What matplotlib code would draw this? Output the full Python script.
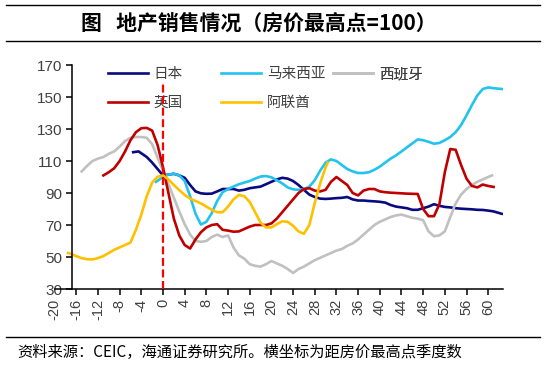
import numpy as np
import matplotlib
matplotlib.use('Agg')
import matplotlib.pyplot as plt

plt.rcParams['font.family'] = ['Liberation Sans', 'Noto Sans CJK SC', 'DejaVu Sans']

"""data read off the reference (x = quarters from house price peak)"""
jp_q = [-5.5, -4.5, -3, -2, -1] + list(range(0, 62)) + [62.5]
jp = [115.5, 116, 112.5, 109, 105,
      101, 101.5, 102, 101, 99.5, 95, 91, 89.8, 89.5, 89.6,
      91, 92.5, 92.5, 92.5, 91.5, 92, 93, 93.5, 94, 95.5,
      97, 98.5, 99.5, 99, 97.5, 95, 92, 89, 87.5, 86.5,
      86.3, 86.5, 86.8, 87, 87.5, 86, 85.3, 85.3, 85, 84.8,
      84.5, 84, 82.5, 81.5, 81, 80.5, 79.5, 79.5, 80.5, 81.5,
      83, 82, 81.3, 81, 80.5, 80.2, 80, 79.8, 79.5, 79.4,
      79, 78.5, 77]

my_q = [-1.3] + list(range(0, 62)) + [62.5]
my = [97,
      100, 101.5, 102, 101, 97.5, 88, 77, 70.3, 72, 77.5,
      85, 90.5, 92.5, 94, 95.5, 96.5, 97.5, 99, 100.3, 100.6,
      99.8, 98, 96, 93.5, 92.3, 92, 92.3, 94, 98, 104,
      109, 111, 110, 107.5, 105, 103.5, 102.5, 102.5, 103, 104.5,
      106.5, 109, 111.5, 113.5, 116, 118.5, 121, 123.5, 123, 122,
      120.8, 121.3, 123, 125, 128, 132.5, 138.5, 145, 151, 155,
      156, 155.5, 155]

sp_q = list(range(-15, 61)) + [60.7]
sp = [103.5, 107, 110, 111.5, 112.5, 114.5, 116, 119, 122.5, 124.5,
      125, 125, 124.5, 120.5, 112,
      104, 95.5, 87, 78.5, 70.5, 64, 60, 59.5, 60, 62.5,
      64, 62.5, 63.5, 56, 51, 49, 45.5, 44.5, 44, 45.5,
      47.5, 46, 44.5, 42.5, 40, 42.5, 44, 46, 48, 49.5,
      51, 52.5, 54, 55, 57, 58.5, 61, 64, 67, 70,
      72, 73.5, 75, 76, 76.5, 75.5, 74.5, 74, 73, 66,
      63, 63.5, 66, 75, 83.5, 89, 92.5, 95, 97, 98.5,
      100, 101]

uk_q = list(range(-11, 62))
uk = [101, 103, 105.5, 110, 116, 123, 128, 130.5, 130.7, 129, 120,
      106, 90, 74, 63.5, 57.5, 55.3, 61, 65.5, 68.5, 70,
      70.5, 67, 66.5, 65.8, 66, 67.5, 69, 70, 70, 70,
      71, 74, 78, 82, 86, 90, 92.5, 93, 91.5, 91,
      92, 97, 100, 97.5, 95, 90, 88.5, 91.5, 92.5, 92.5,
      91, 90.5, 90.2, 90, 89.8, 89.6, 89.5, 89.4, 80, 75.5,
      75.5, 83, 103, 117.5, 117, 107.5, 99, 94.4, 93.5, 95.3,
      94.4, 93.8]

ae_q = [-17.5] + list(range(-17, 31)) + [30.4]
ae = [52.5,
      52, 50.5, 49.3, 48.6, 48.5, 49.3, 50.6, 52.5, 54.5, 56,
      57.5, 59, 67, 76.5, 88, 96.5, 100.2,
      101, 98.5, 95, 91.8, 88.8, 86.5, 85, 83.5, 81.5, 79.5,
      78, 78, 81.5, 86, 88.8, 88, 84.4, 78, 71.5, 68.5,
      68.5, 70.5, 72.3, 72, 69.5, 66, 64.5, 70, 83.8, 96,
      106, 109]

peak_q = 0
peak_line_top = 159
xticks = list(range(-20, 61, 4))
yticks = list(range(30, 171, 20))

fig = plt.figure(figsize=(5.45, 3.69), dpi=100)
ax = fig.add_axes([0.1002, 0.2168, 0.8224, 0.6070])

lw = 1.9
l_jp, = ax.plot(jp_q, jp, color='#0A0A80', lw=lw, label='日本')
l_my, = ax.plot(my_q, my, color='#22C3EE', lw=lw, label='马来西亚')
l_sp, = ax.plot(sp_q, sp, color='#C0C0C0', lw=lw, label='西班牙')
l_uk, = ax.plot(uk_q, uk, color='#C00000', lw=lw, label='英国')
l_ae, = ax.plot(ae_q, ae, color='#FFC000', lw=lw, label='阿联酋')
ax.vlines(peak_q, 30, peak_line_top, colors='#FF0000', lw=1.6,
          linestyles=(0, (3.6, 1.6)), zorder=6)

ax.set_xlim(-20, 62.7)
ax.set_ylim(30, 170)
ax.set_xticks(xticks)
ax.set_yticks(yticks)
ax.set_xticklabels([str(t) for t in xticks], rotation=90)
ax.xaxis.get_major_ticks()[0].tick1line.set_visible(False)

for s in ['top', 'right']:
    ax.spines[s].set_visible(False)
ax.spines['left'].set_position(('data', -16.8))
ax.spines['left'].set_linewidth(1.1)
ax.spines['bottom'].set_linewidth(1.1)
ax.tick_params(axis='both', direction='out', length=4, width=1.1,
               colors='black', labelcolor='#404040')
ax.tick_params(axis='y', labelsize=11, pad=3)
ax.tick_params(axis='x', labelsize=10.5, pad=3)

# legend: one small legend per entry so the columns sit like the excel one
leg_pos = [(l_jp, 0.119, 0.960), (l_uk, 0.119, 0.830),
           (l_my, 0.371, 0.960), (l_ae, 0.371, 0.830),
           (l_sp, 0.621, 0.960)]
for h, lx, ly in leg_pos:
    lg = ax.legend(handles=[h], loc='center left', bbox_to_anchor=(lx, ly),
                   frameon=False, borderpad=0, borderaxespad=0,
                   handlelength=2.74, handletextpad=0.4,
                   prop={'family': ['Noto Sans CJK SC'], 'size': 10.5})
    for t in lg.get_texts():
        t.set_color('#404040')
    ax.add_artist(lg)

fig.text(0.474, 1 - 23 / 369, '图   地产销售情况（房价最高点=100）',
         ha='center', va='center', fontsize=15, fontweight='bold',
         family=['Noto Sans CJK SC'])
fig.text(17 / 545, (369 - 352) / 369,
         '资料来源：CEIC，海通证券研究所。横坐标为距房价最高点季度数',
         ha='left', va='center', fontsize=11, family=['Noto Sans CJK SC'])

for yy in [5, 41, 337]:
    fig.add_artist(plt.Line2D([6 / 545, 540 / 545], [1 - yy / 369, 1 - yy / 369],
                              color='black', lw=1.0))

fig.savefig('out.png', dpi=100)
